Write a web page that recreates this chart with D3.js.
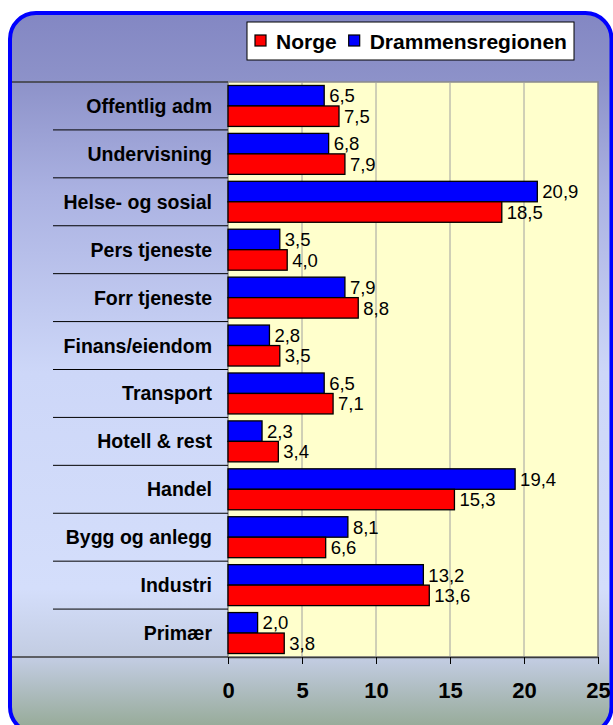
<!DOCTYPE html>
<html>
<head>
<meta charset="utf-8">
<script src="https://cdn.jsdelivr.net/npm/d3@7"></script>
<style>
  body { margin: 0; background: #fff; }
  svg text { font-family: "Liberation Sans", Arial, sans-serif; }
</style>
</head>
<body>
<svg id="chart" width="613" height="725"></svg>
<script>
// data, top to bottom as in the chart
const categories = ['Offentlig adm', 'Undervisning', 'Helse- og sosial', 'Pers tjeneste',
  'Forr tjeneste', 'Finans/eiendom', 'Transport', 'Hotell & rest', 'Handel',
  'Bygg og anlegg', 'Industri', 'Primær']
const drammen = [6.5, 6.8, 20.9, 3.5, 7.9, 2.8, 6.5, 2.3, 19.4, 8.1, 13.2, 2.0]
const norge = [7.5, 7.9, 18.5, 4.0, 8.8, 3.5, 7.1, 3.4, 15.3, 6.6, 13.6, 3.8]
const xTicks = [0, 5, 10, 15, 20, 25]

const series = [
  { name: 'Drammensregionen', values: drammen, color: '#0000ff' },
  { name: 'Norge', values: norge, color: '#ff0000' }
]
const legendOrder = ['Norge', 'Drammensregionen']

const svg = d3.select('#chart')
const plot = { left: 228, right: 598, top: 82, bottom: 657 }

const no = d3.formatLocale({ decimal: ',', thousands: ' ', grouping: [3], currency: ['', ' kr'] })
const fmt = no.format('.1f')

// background gradient
const defs = svg.append('defs')
const grad = defs.append('linearGradient').attr('id', 'bg')
  .attr('gradientUnits', 'userSpaceOnUse')
  .attr('x1', 0).attr('y1', 13).attr('x2', 0).attr('y2', 733)
grad.selectAll('stop')
  .data([
    [0, '#8387c3'], [0.095, '#8d92c9'], [0.25, '#abb2e2'], [0.5, '#cdd7f8'],
    [0.8, '#d4defb'], [0.9, '#c1cbe0'], [1, '#93a892']
  ])
  .join('stop')
  .attr('offset', d => d[0])
  .attr('stop-color', d => d[1])

svg.append('rect')
  .attr('x', 10).attr('y', 13).attr('width', 601.5).attr('height', 720)
  .attr('rx', 26)
  .attr('fill', 'url(#bg)')
  .attr('stroke', '#0000ff').attr('stroke-width', 4)

// scales
const x = d3.scaleLinear().domain([0, 25]).range([plot.left, plot.right])
const y = d3.scaleBand().domain(categories).range([plot.top, plot.bottom])
  .paddingInner(0.145).paddingOuter(0.0725)
const ySub = d3.scaleBand().domain(series.map(s => s.name)).range([0, y.bandwidth()])
const step = y.step()

// plot area
svg.append('rect')
  .attr('x', plot.left).attr('y', plot.top)
  .attr('width', plot.right - plot.left).attr('height', plot.bottom - plot.top)
  .attr('fill', '#ffffcc')
  .attr('stroke', '#8a8a8a').attr('stroke-width', 1.5)

svg.append('g')
  .selectAll('line')
  .data(xTicks.slice(1, -1))
  .join('line')
  .attr('x1', d => x(d)).attr('x2', d => x(d))
  .attr('y1', plot.top).attr('y2', plot.bottom)
  .attr('stroke', '#a0a0a0').attr('stroke-width', 1)

// category separators (left side)
svg.append('line')
  .attr('x1', 12).attr('x2', plot.left).attr('y1', plot.top).attr('y2', plot.top)
  .attr('stroke', '#3a3a3a').attr('stroke-width', 1.3)
svg.append('g')
  .selectAll('line')
  .data(d3.range(1, categories.length))
  .join('line')
  .attr('x1', 53).attr('x2', plot.left)
  .attr('y1', i => plot.top + i * step).attr('y2', i => plot.top + i * step)
  .attr('stroke', '#000').attr('stroke-width', 1)
svg.append('line')
  .attr('x1', 12).attr('x2', plot.left).attr('y1', plot.bottom).attr('y2', plot.bottom)
  .attr('stroke', '#3a3a3a').attr('stroke-width', 1.5)

// category labels
svg.append('g')
  .selectAll('text')
  .data(categories)
  .join('text')
  .attr('x', 212)
  .attr('y', d => y(d) + y.bandwidth() / 2)
  .attr('dy', '0.36em')
  .attr('text-anchor', 'end')
  .attr('font-size', 19.5).attr('font-weight', 'bold')
  .attr('fill', '#000')
  .text(d => d)

// bars
const groups = svg.append('g')
  .selectAll('g')
  .data(series)
  .join('g')

groups.selectAll('rect')
  .data(s => s.values.map((v, i) => ({ v, cat: categories[i], s })))
  .join('rect')
  .attr('x', x(0))
  .attr('y', d => y(d.cat) + ySub(d.s.name))
  .attr('width', d => x(d.v) - x(0))
  .attr('height', ySub.bandwidth())
  .attr('fill', d => d.s.color)
  .attr('stroke', '#000').attr('stroke-width', 1.3)

groups.selectAll('text')
  .data(s => s.values.map((v, i) => ({ v, cat: categories[i], s })))
  .join('text')
  .attr('x', d => x(d.v) + 5)
  .attr('y', d => y(d.cat) + ySub(d.s.name) + ySub.bandwidth() / 2)
  .attr('dy', '0.36em')
  .attr('font-size', 18.5)
  .attr('fill', '#000')
  .text(d => fmt(d.v))

// x axis
const xAxis = svg.append('g')
  .attr('transform', `translate(0,${plot.bottom})`)
  .call(d3.axisBottom(x).tickValues(xTicks).tickFormat(d3.format('d'))
    .tickSize(7).tickSizeOuter(0).tickPadding(18))
xAxis.select('.domain').attr('stroke', '#3a3a3a').attr('stroke-width', 1.5)
xAxis.selectAll('.tick line').attr('stroke', '#000')
xAxis.selectAll('.tick text')
  .attr('font-size', 22).attr('font-weight', 'bold').attr('fill', '#000')
  .attr('font-family', '"Liberation Sans", Arial, sans-serif')

// legend
const legend = svg.append('g')
legend.append('rect')
  .attr('x', 247).attr('y', 22).attr('width', 327).attr('height', 38)
  .attr('fill', '#fff').attr('stroke', '#000').attr('stroke-width', 1)

let lx = 255
legendOrder.forEach(name => {
  const s = series.find(d => d.name === name)
  legend.append('rect')
    .attr('x', lx).attr('y', 35).attr('width', 11).attr('height', 11)
    .attr('fill', s.color).attr('stroke', '#000').attr('stroke-width', 1.2)
  const t = legend.append('text')
    .attr('x', lx + 21).attr('y', 41).attr('dy', '0.36em')
    .attr('font-size', 21).attr('font-weight', 'bold').attr('fill', '#000')
    .text(name)
  lx += 21 + t.node().getComputedTextLength() + 12
})
</script>
</body>
</html>
